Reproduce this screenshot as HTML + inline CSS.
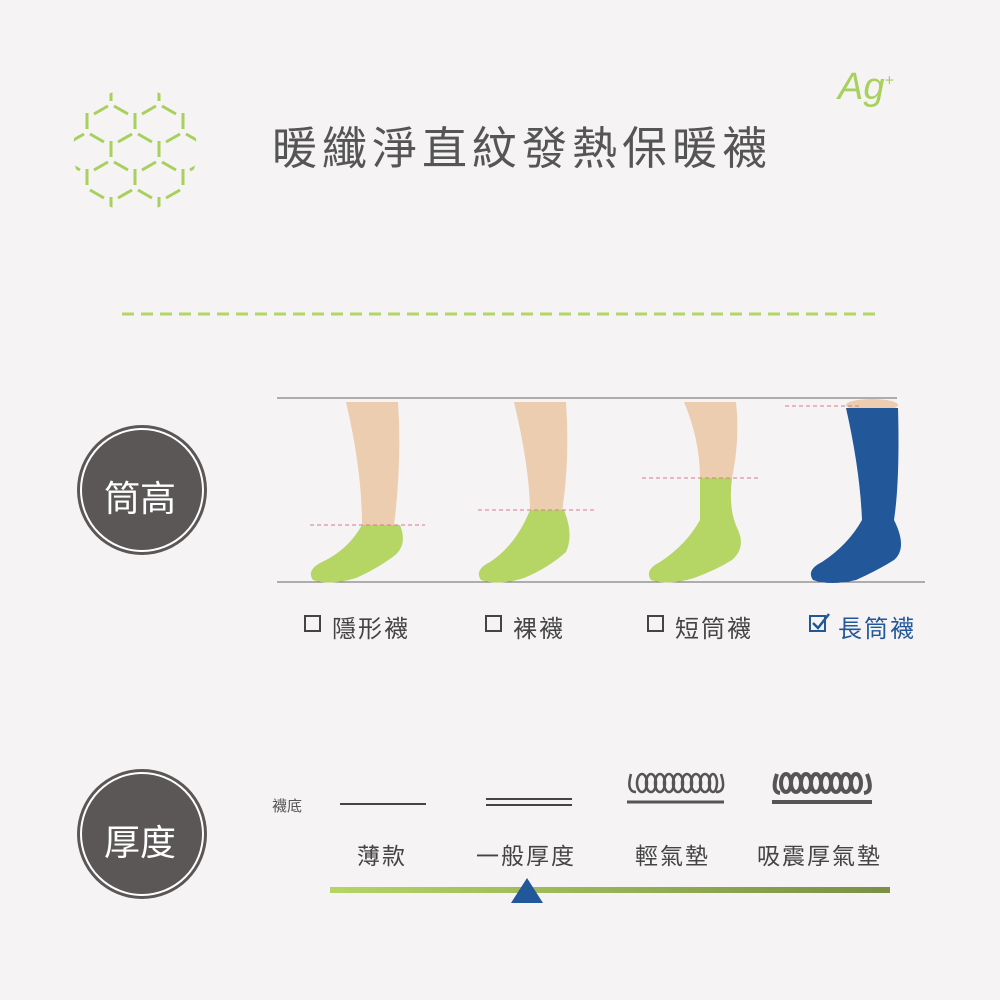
<!DOCTYPE html>
<html><head><meta charset="utf-8"><style>
html,body{margin:0;padding:0;background:#f5f3f4;}
body{width:1000px;height:1000px;position:relative;overflow:hidden;font-family:"Liberation Sans","Noto Sans CJK TC",sans-serif;}
.t{position:absolute;white-space:nowrap;}
</style></head><body>
<svg width="1000" height="1000" style="position:absolute;left:0;top:0">
<defs><clipPath id="c"><circle cx="135" cy="150" r="62"/></clipPath>
<g id="y"><line x1="0" y1="-3" x2="0" y2="-19"/><line x1="3" y1="2" x2="17" y2="10"/><line x1="-3" y1="2" x2="-17" y2="10"/></g>
</defs>
<g clip-path="url(#c)" stroke="#a8d05c" stroke-width="3" fill="none">
<use href="#y" x="63" y="104"/><use href="#y" x="111" y="104"/><use href="#y" x="159" y="104"/><use href="#y" x="207" y="104"/>
<use href="#y" x="87" y="132"/><use href="#y" x="135" y="132"/><use href="#y" x="183" y="132"/>
<use href="#y" x="63" y="160"/><use href="#y" x="111" y="160"/><use href="#y" x="159" y="160"/><use href="#y" x="207" y="160"/>
<use href="#y" x="87" y="188"/><use href="#y" x="135" y="188"/><use href="#y" x="183" y="188"/>
<use href="#y" x="63" y="216"/><use href="#y" x="111" y="216"/><use href="#y" x="159" y="216"/><use href="#y" x="207" y="216"/>
<use href="#y" x="87" y="76"/><use href="#y" x="135" y="76"/><use href="#y" x="183" y="76"/>
</g>
<line x1="122" y1="314" x2="878" y2="314" stroke="#b5d565" stroke-width="3" stroke-dasharray="12,7"/>
<circle cx="142" cy="490" r="65" fill="#5b5757"/><circle cx="142" cy="490" r="61" fill="none" stroke="#fff" stroke-width="2"/>
<circle cx="142" cy="834" r="65" fill="#5b5757"/><circle cx="142" cy="834" r="61" fill="none" stroke="#fff" stroke-width="2"/>
<line x1="277" y1="398" x2="897" y2="398" stroke="#666" stroke-width="1"/>
<line x1="277" y1="582" x2="925" y2="582" stroke="#666" stroke-width="1"/>
<path d="M346,402 L398,402 Q402,460 394,525 L362,525 Q362,470 346,402 Z" fill="#eccdb0"/>
<path d="M362,525 L400,525 Q408,545 394,556 Q378,568 356,578 Q330,586 313,580 Q306,570 322,562 Q348,550 362,525 Z" fill="#b5d565"/>
<g transform="translate(168,0)">
<path d="M346,402 L398,402 Q402,460 394,512 L362,512 Q362,470 346,402 Z" fill="#eccdb0"/>
<path d="M362,510 L396,510 Q406,535 398,552 Q380,568 356,578 Q330,586 313,580 Q306,570 322,562 Q348,545 362,510 Z" fill="#b5d565"/>
</g>
<g transform="translate(338,0)">
<path d="M346,402 L398,402 Q402,440 394,478 L362,478 Q362,440 346,402 Z" fill="#eccdb0"/>
<path d="M362,478 L394,478 Q390,510 400,530 Q408,548 394,560 Q378,570 356,578 Q330,586 313,580 Q306,570 322,562 Q348,545 362,520 Z" fill="#b5d565"/>
</g>
<g transform="translate(500,0)">
<ellipse cx="372" cy="405" rx="26" ry="6" fill="#eccdb0"/>
<path d="M346,408 L398,408 Q400,480 394,520 Q408,548 394,560 Q378,570 356,580 Q330,586 313,580 Q306,570 322,562 Q348,545 362,520 Q360,470 346,408 Z" fill="#22579a"/>
</g>
<g stroke="#d97a8a" stroke-width="1" stroke-dasharray="4,3">
<line x1="310" y1="525" x2="425" y2="525"/><line x1="478" y1="510" x2="595" y2="510"/>
<line x1="642" y1="478" x2="758" y2="478"/><line x1="785" y1="406" x2="860" y2="406"/>
</g>
<g fill="none" stroke="#444" stroke-width="2">
<rect x="305" y="616" width="15" height="15"/><rect x="486" y="616" width="15" height="15"/><rect x="648" y="616" width="15" height="15"/>
</g>
<rect x="810" y="616" width="15" height="15" fill="none" stroke="#22579a" stroke-width="2"/>
<path d="M813,623 L818,628 L829,614" fill="none" stroke="#22579a" stroke-width="2.5"/>
<line x1="340" y1="804" x2="426" y2="804" stroke="#444" stroke-width="2"/>
<line x1="486" y1="799" x2="572" y2="799" stroke="#444" stroke-width="2"/>
<line x1="486" y1="805" x2="572" y2="805" stroke="#444" stroke-width="2"/>
<line x1="627" y1="802" x2="724" y2="802" stroke="#555" stroke-width="3"/>
<g fill="none" stroke="#555" stroke-width="2.5">
<path d="M631,774 Q626,792 636,792 M721,774 Q727,792 716,792"/>
<ellipse cx="642" cy="783" rx="5" ry="9"/><ellipse cx="651" cy="783" rx="5" ry="9"/><ellipse cx="660" cy="783" rx="5" ry="9"/><ellipse cx="669" cy="783" rx="5" ry="9"/><ellipse cx="678" cy="783" rx="5" ry="9"/><ellipse cx="687" cy="783" rx="5" ry="9"/><ellipse cx="696" cy="783" rx="5" ry="9"/><ellipse cx="705" cy="783" rx="5" ry="9"/><ellipse cx="713" cy="783" rx="4" ry="9"/>
</g>
<line x1="772" y1="802" x2="872" y2="802" stroke="#555" stroke-width="4"/>
<g fill="none" stroke="#555" stroke-width="4">
<path d="M777,774 Q771,792 780,793 M867,774 Q874,792 864,793"/>
<ellipse cx="786" cy="783" rx="5" ry="9"/><ellipse cx="796" cy="783" rx="5" ry="9"/><ellipse cx="806" cy="783" rx="5" ry="9"/><ellipse cx="816" cy="783" rx="5" ry="9"/><ellipse cx="826" cy="783" rx="5" ry="9"/><ellipse cx="836" cy="783" rx="5" ry="9"/><ellipse cx="846" cy="783" rx="5" ry="9"/><ellipse cx="856" cy="783" rx="5" ry="9"/>
</g>
<defs><linearGradient id="g" x1="0" x2="1"><stop offset="0" stop-color="#b5d565"/><stop offset="1" stop-color="#7a8f45"/></linearGradient></defs>
<rect x="330" y="887" width="560" height="6" fill="url(#g)"/>
<polygon points="527,878 511,903 543,903" fill="#22579a"/>
</svg>
<div class="t" style="left:272px;top:112px;font-size:45px;color:#555;letter-spacing:5px">暖纖淨直紋發熱保暖襪</div>
<div class="t" style="left:838px;top:66px;font-size:38px;color:#a8d05c;font-style:italic">Ag<sup style="font-size:16px">+</sup></div>
<div class="t" style="left:104px;top:470px;font-size:36px;color:#fff">筒高</div>
<div class="t" style="left:104px;top:814px;font-size:36px;color:#fff">厚度</div>
<div class="t" style="left:332px;top:609px;font-size:24px;color:#444;letter-spacing:2px">隱形襪</div>
<div class="t" style="left:513px;top:609px;font-size:24px;color:#444;letter-spacing:2px">裸襪</div>
<div class="t" style="left:675px;top:609px;font-size:24px;color:#444;letter-spacing:2px">短筒襪</div>
<div class="t" style="left:838px;top:609px;font-size:24px;color:#22579a;letter-spacing:2px">長筒襪</div>
<div class="t" style="left:272px;top:795px;font-size:15px;color:#555">襪底</div>
<div class="t" style="left:357px;top:837px;font-size:23px;color:#444;letter-spacing:2px">薄款</div>
<div class="t" style="left:476px;top:837px;font-size:23px;color:#444;letter-spacing:2px">一般厚度</div>
<div class="t" style="left:635px;top:837px;font-size:23px;color:#444;letter-spacing:2px">輕氣墊</div>
<div class="t" style="left:757px;top:837px;font-size:23px;color:#444;letter-spacing:2px">吸震厚氣墊</div>
</body></html>
